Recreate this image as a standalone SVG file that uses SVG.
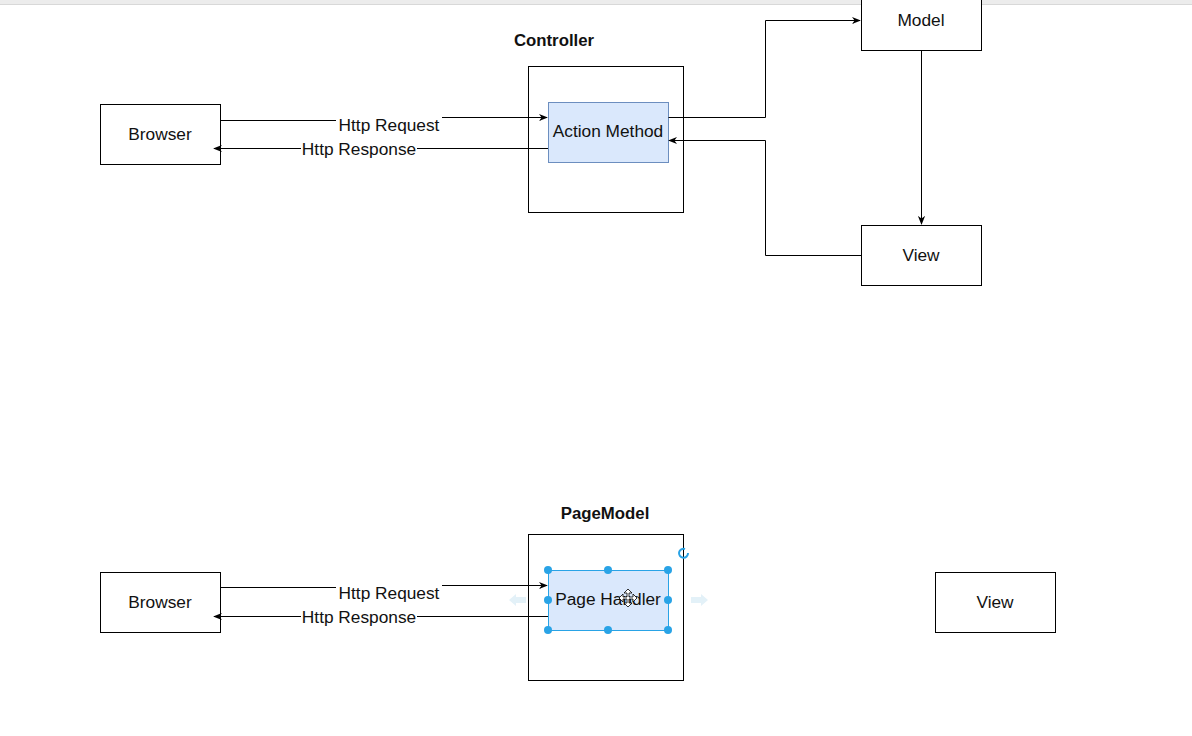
<svg xmlns="http://www.w3.org/2000/svg" width="1192" height="736" viewBox="0 0 1192 736">
<defs>
<marker id="arr" viewBox="0 0 10 10" refX="9" refY="5" markerWidth="9" markerHeight="9" markerUnits="userSpaceOnUse" orient="auto">
<path d="M0,1 L10,5 L0,9 L3,5 Z" fill="#000"/>
</marker>
<style>
.box{fill:#fff;stroke:#000;stroke-width:1}
.inner{fill:#dae8fc;stroke:#6c8ebf;stroke-width:1}
.sel{fill:#dae8fc;stroke:#29a3e6;stroke-width:1}
.t{font-family:"Liberation Sans",Arial,sans-serif;font-size:17.3px;fill:#111;text-anchor:middle;dominant-baseline:central}
.b{font-weight:bold;font-size:16.8px}
.lbl{fill:#fff}
.ln{fill:none;stroke:#000;stroke-width:1}
.h{fill:#29a3e6}
</style>
</defs>
<rect width="1192" height="736" fill="#fff"/>
<rect x="0" y="0" width="1192" height="4" fill="#ececec"/>
<line x1="0" y1="4.5" x2="1192" y2="4.5" stroke="#d8d8d8"/>

<g id="top-controller">
<rect class="box" x="528.5" y="66.5" width="155" height="146"/>
<text class="t b" x="554" y="40">Controller</text>
</g>
<g id="top-action-method">
<rect class="inner" x="548.5" y="102.5" width="120" height="60"/>
<text class="t" x="608" y="131">Action Method</text>
</g>
<g id="top-browser">
<rect class="box" x="100.5" y="104.5" width="120" height="60"/>
<text class="t" x="160" y="134">Browser</text>
</g>
<g id="top-model">
<rect class="box" x="861.5" y="-10.5" width="120" height="61"/>
<text class="t" x="921" y="20">Model</text>
</g>
<g id="top-view">
<rect class="box" x="861.5" y="225.5" width="120" height="60"/>
<text class="t" x="921" y="255">View</text>
</g>

<g id="bottom-pagemodel">
<rect class="box" x="528.5" y="534.5" width="155" height="146"/>
<text class="t b" x="605" y="513">PageModel</text>
</g>
<g id="bottom-browser">
<rect class="box" x="100.5" y="572.5" width="120" height="60"/>
<text class="t" x="160" y="602">Browser</text>
</g>
<g id="bottom-view">
<rect class="box" x="935.5" y="572.5" width="120" height="60"/>
<text class="t" x="995" y="602">View</text>
</g>

<g id="connectors">
<path class="ln" d="M220.5,120.5 H390.5 V117.5 H547" marker-end="url(#arr)"/>
<path class="ln" d="M548,148.5 H214" marker-end="url(#arr)"/>
<path class="ln" d="M668.5,117.5 H765.5 V20.5 H860" marker-end="url(#arr)"/>
<path class="ln" d="M861,255.5 H765.5 V140.5 H669" marker-end="url(#arr)"/>
<path class="ln" d="M921.5,50.5 V224" marker-end="url(#arr)"/>
<path class="ln" d="M220.5,587.5 H390.5 V585.5 H547" marker-end="url(#arr)"/>
<path class="ln" d="M548,616.5 H214" marker-end="url(#arr)"/>
<rect class="lbl" x="336" y="115" width="106" height="20"/>
<text class="t" x="389" y="125">Http Request</text>
<rect class="lbl" x="301" y="140" width="116" height="18"/>
<text class="t" x="359" y="149">Http Response</text>
<rect class="lbl" x="336" y="583" width="106" height="20"/>
<text class="t" x="389" y="593">Http Request</text>
<rect class="lbl" x="301" y="608" width="116" height="18"/>
<text class="t" x="359" y="617">Http Response</text>
</g>

<g id="bottom-page-handler">
<path d="M509,600 l7,-6 v3 h10 v6 h-10 v3 z" fill="#e3f1f8"/>
<path d="M708,600 l-7,-6 v3 h-10 v6 h10 v3 z" fill="#e3f1f8"/>
<rect class="sel" x="548.5" y="570.5" width="120" height="60"/>
<text class="t" x="608" y="599">Page Handler</text>
<circle class="h" cx="548" cy="570" r="4"/>
<circle class="h" cx="608" cy="570" r="4"/>
<circle class="h" cx="668" cy="570" r="4"/>
<circle class="h" cx="548" cy="600" r="4"/>
<circle class="h" cx="668" cy="600" r="4"/>
<circle class="h" cx="548" cy="630" r="4"/>
<circle class="h" cx="608" cy="630" r="4"/>
<circle class="h" cx="668" cy="630" r="4"/>
<path d="M688,553 A4.5,4.5 0 1 1 685,549" fill="none" stroke="#29a3e6" stroke-width="2"/>
<path d="M628,589 l-4,4 h3 v4 h-4 v-3 l-4,4 4,4 v-3 h4 v4 h-3 l4,4 4,-4 h-3 v-4 h4 v3 l4,-4 -4,-4 v3 h-4 v-4 h3 z" fill="#fff" stroke="#000" stroke-width="0.8"/>
</g>
</svg>
